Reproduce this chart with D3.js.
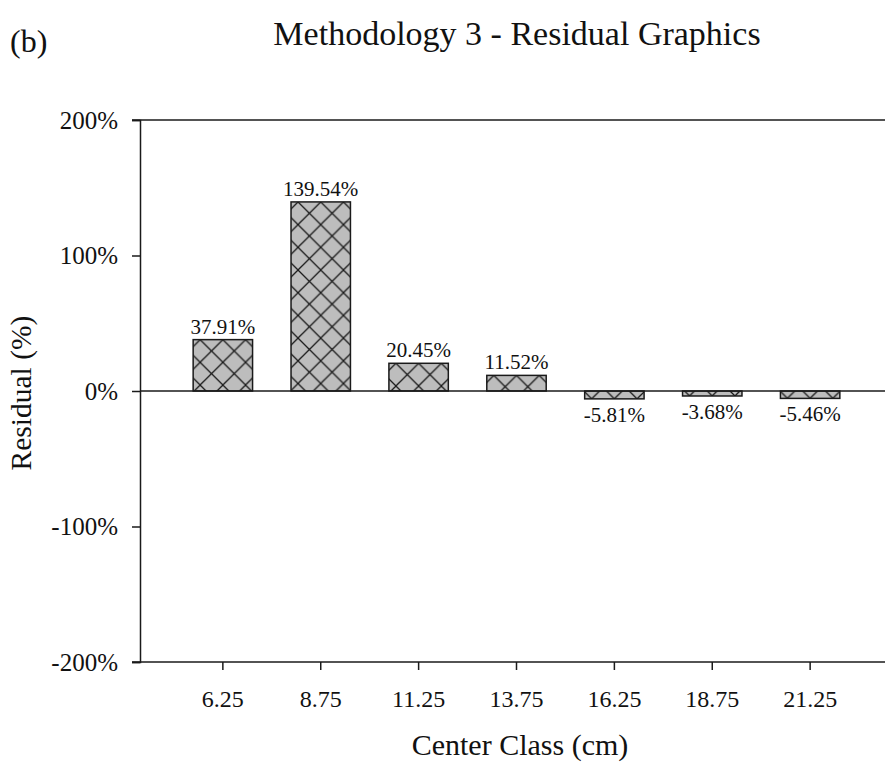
<!DOCTYPE html>
<html>
<head>
<meta charset="utf-8">
<script src="https://cdn.jsdelivr.net/npm/d3@7"></script>
<style>
  html, body { margin: 0; padding: 0; background: #ffffff; }
  svg { display: block; font-family: "Liberation Serif", "Times New Roman", serif; }
</style>
</head>
<body>
<svg id="chart" width="885" height="765"></svg>
<script>
// Center classes (cm) and residuals (%) for methodology 3
const categories = ["6.25", "8.75", "11.25", "13.75", "16.25", "18.75", "21.25"];
const residuals = [37.91, 139.54, 20.45, 11.52, -5.81, -3.68, -5.46];
const yTicks = [200, 100, 0, -100, -200];

const svg = d3.select("#chart");
const W = 885, H = 765;
const plot = { left: 140, right: 893, top: 120, bottom: 662 };

const x = d3.scaleBand()
  .domain(categories)
  .range([plot.left, plot.right])
  .paddingInner(0.393)
  .paddingOuter(0.543);

const y = d3.scaleLinear()
  .domain([-200, 200])
  .range([plot.bottom, plot.top]);

const data = categories.map((c, i) => ({ cat: c, value: residuals[i] }));

// Cross-hatch pattern, one per bar, anchored at the bar's outer end
const defs = svg.append("defs");
const tile = 22.7;
data.forEach((d, i) => {
  const cx = x(d.cat) + x.bandwidth() / 2;
  const endY = y(d.value);
  const p = defs.append("pattern")
    .attr("id", "hatch" + i)
    .attr("patternUnits", "userSpaceOnUse")
    .attr("x", cx)
    .attr("y", endY)
    .attr("width", tile)
    .attr("height", tile);
  p.append("rect").attr("width", tile).attr("height", tile).attr("fill", "#bdbdbd");
  p.append("path")
    .attr("d", `M-1,-1 L${tile + 1},${tile + 1} M-1,${tile + 1} L${tile + 1},-1`)
    .attr("stroke", "#1a1a1a")
    .attr("stroke-width", 1.3)
    .attr("fill", "none");
});

// Bars
svg.append("g")
  .selectAll("rect")
  .data(data)
  .join("rect")
  .attr("x", d => x(d.cat))
  .attr("width", x.bandwidth())
  .attr("y", d => Math.min(y(d.value), y(0)))
  .attr("height", d => Math.abs(y(d.value) - y(0)))
  .attr("fill", (d, i) => `url(#hatch${i})`)
  .attr("stroke", "#1a1a1a")
  .attr("stroke-width", 1.5);

// Zero reference line
svg.append("line")
  .attr("x1", plot.left).attr("x2", W)
  .attr("y1", y(0)).attr("y2", y(0))
  .attr("stroke", "#1a1a1a").attr("stroke-width", 1.5);

// Frame lines (top, bottom extend to the outward ticks; left spine)
const frame = svg.append("g").attr("stroke", "#1a1a1a").attr("stroke-width", 1.5);
frame.append("line").attr("x1", plot.left - 8).attr("x2", W).attr("y1", plot.top).attr("y2", plot.top);
frame.append("line").attr("x1", plot.left - 8).attr("x2", W).attr("y1", plot.bottom).attr("y2", plot.bottom);

// Y axis
const yAxis = svg.append("g")
  .attr("transform", `translate(${plot.left},0)`)
  .call(d3.axisLeft(y).tickValues(yTicks).tickSize(8).tickPadding(14).tickFormat(d => d + "%"));
yAxis.select(".domain").attr("stroke", "#1a1a1a").attr("stroke-width", 1.5);
yAxis.selectAll(".tick line").attr("stroke", "#1a1a1a").attr("stroke-width", 1.5);
yAxis.selectAll(".tick text")
  .attr("font-family", "Liberation Serif, Times New Roman, serif")
  .attr("font-size", 25).attr("fill", "#111");

// X axis
const xAxis = svg.append("g")
  .attr("transform", `translate(0,${plot.bottom})`)
  .call(d3.axisBottom(x).tickSize(8).tickPadding(20));
xAxis.select(".domain").remove();
xAxis.selectAll(".tick line").attr("stroke", "#1a1a1a").attr("stroke-width", 1.5);
xAxis.selectAll(".tick text")
  .attr("font-family", "Liberation Serif, Times New Roman, serif")
  .attr("font-size", 24).attr("fill", "#111");

// Value labels
svg.append("g")
  .selectAll("text")
  .data(data)
  .join("text")
  .attr("x", d => x(d.cat) + x.bandwidth() / 2)
  .attr("y", d => d.value >= 0 ? y(d.value) - 6 : y(d.value) + 23)
  .attr("text-anchor", "middle")
  .attr("font-size", 21)
  .attr("fill", "#111")
  .text(d => d.value.toFixed(2) + "%");

// Titles
svg.append("text")
  .attr("x", 517).attr("y", 45)
  .attr("text-anchor", "middle")
  .attr("font-size", 34)
  .attr("fill", "#111")
  .text("Methodology 3 - Residual Graphics");

svg.append("text")
  .attr("x", 10).attr("y", 52)
  .attr("font-size", 32)
  .attr("fill", "#111")
  .text("(b)");

svg.append("text")
  .attr("x", 520).attr("y", 755)
  .attr("text-anchor", "middle")
  .attr("font-size", 30)
  .attr("fill", "#111")
  .text("Center Class (cm)");

svg.append("text")
  .attr("transform", `translate(31,393) rotate(-90)`)
  .attr("text-anchor", "middle")
  .attr("font-size", 29.5)
  .attr("fill", "#111")
  .text("Residual (%)");
</script>
</body>
</html>
